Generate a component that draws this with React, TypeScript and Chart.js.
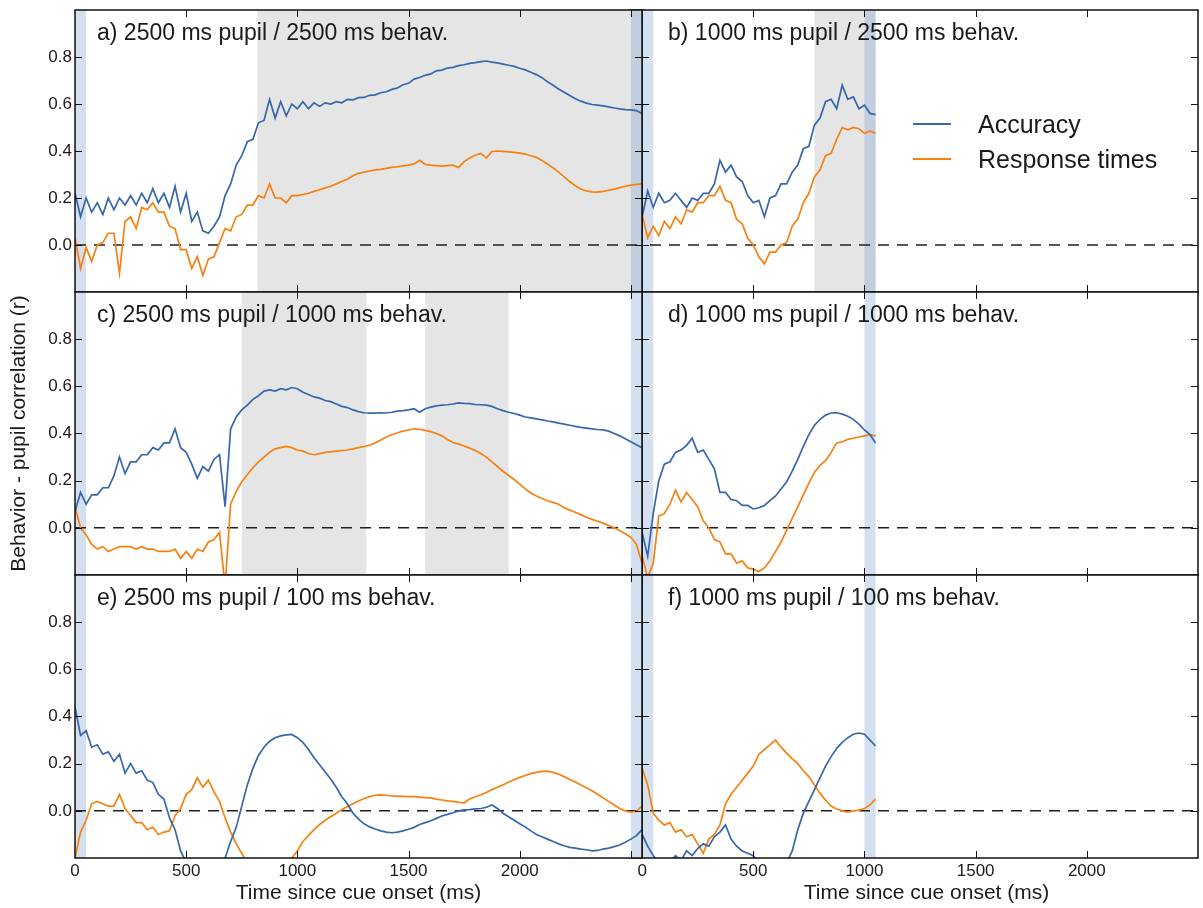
import React, { useEffect, useRef } from "react";
import { Chart, registerables } from "chart.js";

Chart.register(...registerables);

const FONT = '"Liberation Sans", Arial, Helvetica, sans-serif';
Chart.defaults.font.family = FONT;
Chart.defaults.color = "#1a1a1a";

// ---------------- data ----------------
const STEP_MS = 25; // sampling step of every series (ms)
const SERIES_START_MS = 0;

const X_TICK_LABELS = [0, 500, 1000, 1500, 2000];
const X_TICK_MARKS = [0, 500, 1000, 1500, 2000, 2500];
const Y_TICK_VALUES = [0, 0.2, 0.4, 0.6, 0.8];

const X_TITLE = "Time since cue onset (ms)";
const Y_TITLE = "Behavior - pupil correlation (r)";
const LEGEND_LABELS = ["Accuracy", "Response times"];

const TITLE_A = "a) 2500 ms pupil / 2500 ms behav.";
const TITLE_B = "b) 1000 ms pupil / 2500 ms behav.";
const TITLE_C = "c) 2500 ms pupil / 1000 ms behav.";
const TITLE_D = "d) 1000 ms pupil / 1000 ms behav.";
const TITLE_E = "e) 2500 ms pupil / 100 ms behav.";
const TITLE_F = "f) 1000 ms pupil / 100 ms behav.";

// significance windows (ms)
const GREY_A = [[820, 2550]];
const GREY_B = [[775, 1050]];
const GREY_C = [[750, 1310], [1575, 1950]];
const GREY_NONE: number[][] = [];
const BLUE_LEFT = [[-50, 50], [2500, 2550]];
const BLUE_RIGHT = [[-50, 50], [1000, 1050]];

// left column: 0 .. 2550 ms, step 25
const ACC_A = [
  0.22, 0.12, 0.20, 0.14, 0.18, 0.13, 0.20, 0.15, 0.20, 0.17,
  0.21, 0.17, 0.22, 0.18, 0.24, 0.18, 0.22, 0.16, 0.25, 0.14,
  0.22, 0.10, 0.14, 0.06, 0.05, 0.08, 0.12, 0.21, 0.26, 0.34,
  0.38, 0.44, 0.45, 0.52, 0.53, 0.62, 0.54, 0.61, 0.55, 0.60,
  0.58, 0.61, 0.58, 0.605, 0.59, 0.605, 0.60, 0.61, 0.605, 0.62,
  0.618, 0.627, 0.628, 0.637, 0.639, 0.648, 0.652, 0.662, 0.668, 0.682,
  0.688, 0.706, 0.713, 0.722, 0.728, 0.741, 0.744, 0.753, 0.756, 0.763,
  0.767, 0.773, 0.776, 0.78, 0.783, 0.778, 0.775, 0.77, 0.765, 0.76,
  0.752, 0.745, 0.735, 0.725, 0.712, 0.695, 0.68, 0.664, 0.65, 0.636,
  0.622, 0.612, 0.604, 0.598, 0.595, 0.592, 0.588, 0.583, 0.579, 0.576,
  0.575, 0.572, 0.56,
];
const RT_A = [
  0.03, -0.10, -0.01, -0.07, 0.00, 0.01, 0.05, 0.05, -0.12, 0.10,
  0.12, 0.07, 0.16, 0.15, 0.18, 0.14, 0.14, 0.08, 0.07, -0.02,
  -0.02, -0.10, -0.05, -0.13, -0.06, -0.05, 0.01, 0.07, 0.06, 0.12,
  0.13, 0.17, 0.17, 0.21, 0.20, 0.26, 0.20, 0.20, 0.18, 0.21,
  0.21, 0.215, 0.22, 0.228, 0.235, 0.243, 0.25, 0.26, 0.27, 0.28,
  0.295, 0.305, 0.31, 0.315, 0.32, 0.322, 0.326, 0.33, 0.333, 0.337,
  0.34, 0.345, 0.36, 0.343, 0.34, 0.338, 0.336, 0.338, 0.34, 0.33,
  0.355, 0.37, 0.382, 0.39, 0.37, 0.398, 0.40, 0.398, 0.396, 0.394,
  0.391, 0.387, 0.38, 0.373, 0.36, 0.345, 0.328, 0.31, 0.29, 0.27,
  0.252, 0.238, 0.23, 0.226, 0.225, 0.228, 0.233, 0.238, 0.244, 0.25,
  0.255, 0.258, 0.26,
];
const ACC_C = [
  0.07, 0.15, 0.10, 0.14, 0.14, 0.17, 0.17, 0.22, 0.30, 0.23,
  0.28, 0.28, 0.31, 0.31, 0.34, 0.33, 0.36, 0.36, 0.42, 0.34,
  0.32, 0.27, 0.21, 0.26, 0.24, 0.29, 0.31, 0.09, 0.42, 0.47,
  0.50, 0.52, 0.545, 0.56, 0.58, 0.585, 0.58, 0.59, 0.585, 0.595,
  0.59, 0.575, 0.565, 0.555, 0.55, 0.54, 0.535, 0.525, 0.515, 0.51,
  0.50, 0.493, 0.488, 0.486, 0.486, 0.488, 0.487, 0.49, 0.495, 0.497,
  0.50, 0.505, 0.49, 0.505, 0.512, 0.517, 0.52, 0.522, 0.525, 0.53,
  0.528, 0.527, 0.523, 0.522, 0.52, 0.515, 0.505, 0.497, 0.49, 0.485,
  0.478, 0.47, 0.466, 0.462, 0.458, 0.453, 0.449, 0.444, 0.44, 0.435,
  0.43, 0.426, 0.423, 0.42, 0.417, 0.415, 0.41, 0.40, 0.39, 0.378,
  0.365, 0.352, 0.34,
];
const RT_C = [
  0.09, 0.0, -0.03, -0.07, -0.09, -0.08, -0.10, -0.09, -0.08, -0.08,
  -0.08, -0.09, -0.08, -0.09, -0.09, -0.10, -0.10, -0.10, -0.09, -0.13,
  -0.10, -0.13, -0.09, -0.10, -0.06, -0.05, -0.02, -0.25, 0.10, 0.155,
  0.195, 0.225, 0.255, 0.28, 0.30, 0.32, 0.335, 0.34, 0.345, 0.34,
  0.33, 0.325, 0.315, 0.31, 0.315, 0.32, 0.322, 0.325, 0.328, 0.33,
  0.335, 0.34, 0.345, 0.35, 0.36, 0.372, 0.385, 0.395, 0.403, 0.41,
  0.415, 0.42, 0.418, 0.413, 0.408, 0.40, 0.39, 0.375, 0.362, 0.355,
  0.347, 0.338, 0.328, 0.315, 0.30, 0.28, 0.26, 0.24, 0.222, 0.205,
  0.185, 0.165, 0.148, 0.135, 0.124, 0.115, 0.108, 0.10, 0.085, 0.075,
  0.066, 0.056, 0.045, 0.036, 0.028, 0.02, 0.01, 0.0, -0.012, -0.025,
  -0.04, -0.07, -0.15,
];
const ACC_E = [
  0.44, 0.32, 0.34, 0.27, 0.28, 0.24, 0.25, 0.21, 0.24, 0.16,
  0.20, 0.16, 0.17, 0.13, 0.12, 0.07, 0.05, -0.03, -0.08, -0.17,
  -0.22, -0.28, -0.3, -0.3, -0.3, -0.3, -0.28, -0.2, -0.13, -0.07,
  0.02, 0.11, 0.18, 0.235, 0.27, 0.295, 0.31, 0.318, 0.322, 0.324,
  0.31, 0.29, 0.26, 0.225, 0.195, 0.165, 0.135, 0.10, 0.06, 0.03,
  -0.01, -0.035, -0.055, -0.068, -0.077, -0.085, -0.09, -0.093, -0.09, -0.085,
  -0.078, -0.07, -0.058, -0.05, -0.042, -0.032, -0.022, -0.015, -0.008, 0.0,
  0.004, 0.005, 0.008, 0.01, 0.015, 0.025, 0.01, -0.01, -0.025, -0.04,
  -0.055, -0.068, -0.085, -0.1, -0.11, -0.12, -0.13, -0.14, -0.148, -0.155,
  -0.158, -0.162, -0.165, -0.17, -0.168, -0.162, -0.158, -0.152, -0.145, -0.133,
  -0.12, -0.105, -0.08,
];
const RT_E = [
  -0.2, -0.09, -0.04, 0.03, 0.04, 0.03, 0.02, 0.02, 0.07, 0.01,
  -0.02, -0.05, -0.05, -0.08, -0.07, -0.10, -0.09, -0.085, -0.02, 0.01,
  0.07, 0.09, 0.14, 0.10, 0.13, 0.08, 0.04, -0.03, -0.09, -0.14,
  -0.18, -0.22, -0.26, -0.28, -0.3, -0.3, -0.3, -0.28, -0.24, -0.2,
  -0.17, -0.13, -0.105, -0.08, -0.058, -0.04, -0.025, -0.01, 0.005, 0.018,
  0.03, 0.042, 0.052, 0.06, 0.066, 0.068, 0.066, 0.063, 0.062, 0.061,
  0.06, 0.06, 0.058, 0.056, 0.055, 0.05, 0.046, 0.042, 0.04, 0.036,
  0.034, 0.05, 0.06, 0.068, 0.078, 0.09, 0.10, 0.11, 0.122, 0.132,
  0.142, 0.15, 0.158, 0.163, 0.167, 0.168, 0.163, 0.155, 0.145, 0.133,
  0.122, 0.11, 0.098, 0.085, 0.07, 0.055, 0.04, 0.025, 0.01, 0.0,
  -0.006, -0.002, 0.02,
];

// right column: 0 .. 1050 ms, step 25
const ACC_B = [
  0.12, 0.23, 0.16, 0.22, 0.18, 0.19, 0.22, 0.19, 0.16, 0.20,
  0.19, 0.22, 0.22, 0.26, 0.36, 0.31, 0.34, 0.29, 0.27, 0.21,
  0.18, 0.19, 0.12, 0.20, 0.21, 0.26, 0.26, 0.31, 0.34, 0.41,
  0.42, 0.51, 0.54, 0.61, 0.62, 0.58, 0.68, 0.62, 0.63, 0.58,
  0.595, 0.56, 0.555,
];
const RT_B = [
  0.13, 0.03, 0.08, 0.04, 0.10, 0.07, 0.12, 0.09, 0.15, 0.14,
  0.18, 0.18, 0.21, 0.21, 0.25, 0.19, 0.18, 0.11, 0.09, 0.03,
  0.0, -0.05, -0.08, -0.03, -0.03, 0.0, 0.01, 0.08, 0.11, 0.18,
  0.22, 0.29, 0.32, 0.38, 0.39, 0.45, 0.50, 0.49, 0.50, 0.495,
  0.475, 0.485, 0.475,
];
const ACC_D = [
  -0.02, -0.12, 0.06, 0.20, 0.27, 0.28, 0.32, 0.33, 0.35, 0.38,
  0.32, 0.33, 0.29, 0.25, 0.15, 0.15, 0.12, 0.115, 0.095, 0.095,
  0.08, 0.085, 0.095, 0.115, 0.135, 0.165, 0.195, 0.24, 0.29, 0.345,
  0.395, 0.435, 0.46, 0.478, 0.487, 0.488, 0.482, 0.473, 0.46, 0.44,
  0.415, 0.395, 0.36,
];
const RT_D = [
  -0.12, -0.21, -0.15, 0.05, 0.06, 0.10, 0.16, 0.11, 0.15, 0.12,
  0.09, 0.03, 0.0, -0.05, -0.06, -0.11, -0.11, -0.15, -0.14, -0.17,
  -0.175, -0.185, -0.17, -0.14, -0.10, -0.06, -0.01, 0.04, 0.09, 0.14,
  0.19, 0.235, 0.265, 0.285, 0.32, 0.36, 0.365, 0.375, 0.38, 0.385,
  0.39, 0.395, 0.39,
];
const ACC_F = [
  -0.10, -0.15, -0.19, -0.22, -0.21, -0.22, -0.19, -0.21, -0.17, -0.19,
  -0.16, -0.14, -0.15, -0.11, -0.09, -0.06, -0.12, -0.15, -0.17, -0.18,
  -0.19, -0.22, -0.26, -0.28, -0.28, -0.26, -0.22, -0.17, -0.08, -0.01,
  0.04, 0.09, 0.14, 0.19, 0.23, 0.265, 0.29, 0.31, 0.325, 0.33,
  0.325, 0.30, 0.275,
];
const RT_F = [
  0.18, 0.11, -0.01, -0.04, -0.06, -0.05, -0.09, -0.08, -0.11, -0.10,
  -0.14, -0.18, -0.12, -0.10, -0.06, 0.03, 0.07, 0.10, 0.13, 0.16,
  0.19, 0.24, 0.26, 0.28, 0.30, 0.27, 0.245, 0.22, 0.20, 0.17,
  0.145, 0.11, 0.075, 0.045, 0.02, 0.008, 0.0, -0.005, 0.0, 0.003,
  0.01, 0.025, 0.05,
];

// ---------------- styles / layout ----------------
const BLUE = "#3767ab";
const ORANGE = "#f8800f";
const GREY_FILL = "#e5e5e5";
const BLUE_FILL = "rgba(120,155,205,0.32)";
const TEXT = "#1a1a1a";

type Col = {
  left: number; width: number; padL: number; padR: number; xMin: number; xMax: number;
  blue: number[][]; titleDx: number; z: number; isLeft: boolean; xTitleDx: number;
};
const COLS: Col[] = [
  { left: 0, width: 647, padL: 0, padR: 5, xMin: 0, xMax: 2550, blue: BLUE_LEFT, titleDx: 22, z: 2, isLeft: true, xTitleDx: 0 },
  { left: 626, width: 577, padL: 5, padR: 5, xMin: -50, xMax: 2500, blue: BLUE_RIGHT, titleDx: 37, z: 1, isLeft: false, xTitleDx: 12 },
];
const ROWS = [
  { top: 5, height: 292 },
  { top: 287, height: 293 },
  { top: 570, height: 338 },
];

type Panel = {
  id: string; col: number; row: number; title: string;
  acc: number[]; rt: number[]; grey: number[][]; legend: boolean;
};
const PANELS: Panel[] = [
  { id: "a", col: 0, row: 0, title: TITLE_A, acc: ACC_A, rt: RT_A, grey: GREY_A, legend: false },
  { id: "b", col: 1, row: 0, title: TITLE_B, acc: ACC_B, rt: RT_B, grey: GREY_B, legend: true },
  { id: "c", col: 0, row: 1, title: TITLE_C, acc: ACC_C, rt: RT_C, grey: GREY_C, legend: false },
  { id: "d", col: 1, row: 1, title: TITLE_D, acc: ACC_D, rt: RT_D, grey: GREY_NONE, legend: false },
  { id: "e", col: 0, row: 2, title: TITLE_E, acc: ACC_E, rt: RT_E, grey: GREY_NONE, legend: false },
  { id: "f", col: 1, row: 2, title: TITLE_F, acc: ACC_F, rt: RT_F, grey: GREY_NONE, legend: false },
];

function toPoints(values: number[]) {
  return values.map((y, i) => ({ x: SERIES_START_MS + i * STEP_MS, y }));
}

function decorPlugin(p: Panel) {
  const col = COLS[p.col];
  const isBottom = p.row === 2;
  return {
    id: "decor_" + p.id,
    beforeDatasetsDraw(chart: any) {
      const { ctx, chartArea: a, scales } = chart;
      const xs = scales.x;
      const ys = scales.y;
      ctx.save();
      ctx.fillStyle = "#ffffff";
      ctx.fillRect(a.left, a.top, a.right - a.left, a.bottom - a.top);
      const band = (r: number[], color: string) => {
        const x1 = Math.max(a.left, xs.getPixelForValue(r[0]));
        const x2 = Math.min(a.right, xs.getPixelForValue(r[1]));
        if (x2 > x1) {
          ctx.fillStyle = color;
          ctx.fillRect(x1, a.top, x2 - x1, a.bottom - a.top);
        }
      };
      p.grey.forEach((r) => band(r, GREY_FILL));
      col.blue.forEach((r) => band(r, BLUE_FILL));
      const y0 = ys.getPixelForValue(0);
      ctx.strokeStyle = "#1f1f1f";
      ctx.lineWidth = 1.5;
      ctx.setLineDash([11, 8]);
      ctx.beginPath();
      ctx.moveTo(a.left, y0);
      ctx.lineTo(a.right, y0);
      ctx.stroke();
      ctx.restore();
    },
    afterDatasetsDraw(chart: any) {
      const { ctx, chartArea: a, scales } = chart;
      const xs = scales.x;
      const ys = scales.y;
      ctx.save();
      ctx.strokeStyle = "#111111";
      // ticks
      ctx.lineWidth = 1;
      const tl = 7;
      ctx.beginPath();
      X_TICK_MARKS.forEach((v) => {
        const px = Math.round(xs.getPixelForValue(v)) + 0.5;
        if (px > a.left + 1 && px < a.right - 1) {
          ctx.moveTo(px, a.top);
          ctx.lineTo(px, a.top + tl);
          ctx.moveTo(px, a.bottom);
          ctx.lineTo(px, a.bottom - tl);
        }
      });
      Y_TICK_VALUES.forEach((v) => {
        const py = Math.round(ys.getPixelForValue(v)) + 0.5;
        if (col.isLeft) {
          ctx.moveTo(a.left, py);
          ctx.lineTo(a.left + tl, py);
        } else {
          const x0 = xs.getPixelForValue(0);
          ctx.moveTo(x0 - tl, py);
          ctx.lineTo(x0 + tl, py);
        }
        ctx.moveTo(a.right, py);
        ctx.lineTo(a.right - tl, py);
      });
      ctx.stroke();
      // zero-time line in right panels
      if (!col.isLeft) {
        const x0 = xs.getPixelForValue(0);
        ctx.lineWidth = 1.5;
        ctx.beginPath();
        ctx.moveTo(x0, a.top);
        ctx.lineTo(x0, a.bottom);
        ctx.stroke();
      }
      // frame
      ctx.lineWidth = 1.5;
      ctx.strokeRect(a.left, a.top, a.right - a.left, a.bottom - a.top);
      // panel title
      ctx.fillStyle = TEXT;
      ctx.font = `23px ${FONT}`;
      ctx.textBaseline = "alphabetic";
      ctx.textAlign = "left";
      ctx.fillText(p.title, a.left + col.titleDx, a.top + 30);
      // legend
      if (p.legend) {
        const items = [
          { label: LEGEND_LABELS[0], color: BLUE, dy: 114 },
          { label: LEGEND_LABELS[1], color: ORANGE, dy: 149 },
        ];
        ctx.font = `25px ${FONT}`;
        items.forEach((it) => {
          const y = a.top + it.dy;
          ctx.strokeStyle = it.color;
          ctx.lineWidth = 2;
          ctx.beginPath();
          ctx.moveTo(a.left + 282, y);
          ctx.lineTo(a.left + 320, y);
          ctx.stroke();
          ctx.fillStyle = TEXT;
          ctx.fillText(it.label, a.left + 347, y + 9);
        });
      }
      // x-axis title (bottom row)
      if (isBottom) {
        ctx.fillStyle = TEXT;
        ctx.font = `21px ${FONT}`;
        ctx.textAlign = "center";
        ctx.textBaseline = "middle";
        ctx.fillText(X_TITLE, (a.left + a.right) / 2 + col.xTitleDx, a.bottom + 35);
      }
      ctx.restore();
    },
  };
}

function buildConfig(p: Panel): any {
  const col = COLS[p.col];
  const isBottom = p.row === 2;
  const showYTitle = col.isLeft && p.row === 1;
  return {
    type: "line",
    data: {
      datasets: [
        {
          label: LEGEND_LABELS[0],
          data: toPoints(p.acc),
          borderColor: BLUE,
          borderWidth: 1.7,
          pointRadius: 0,
          fill: false,
          tension: 0,
        },
        {
          label: LEGEND_LABELS[1],
          data: toPoints(p.rt),
          borderColor: ORANGE,
          borderWidth: 1.7,
          pointRadius: 0,
          fill: false,
          tension: 0,
        },
      ],
    },
    options: {
      animation: false,
      responsive: false,
      maintainAspectRatio: false,
      devicePixelRatio: 1,
      events: [],
      layout: {
        padding: { top: 5, left: col.padL, right: col.padR, bottom: isBottom ? 0 : 5 },
      },
      plugins: {
        legend: { display: false },
        tooltip: { enabled: false },
        title: { display: false },
      },
      scales: {
        x: {
          type: "linear",
          min: col.xMin,
          max: col.xMax,
          display: isBottom,
          grid: { display: false, drawTicks: false },
          border: { display: false },
          ticks: {
            font: { size: 17 },
            color: TEXT,
            padding: 3,
            maxRotation: 0,
            autoSkip: false,
            callback: (v: any) => String(v),
          },
          afterBuildTicks: (s: any) => {
            s.ticks = X_TICK_LABELS.map((v) => ({ value: v }));
          },
          afterFit: (s: any) => {
            if (isBottom) {
              s.height = 50;
              s.paddingLeft = 0;
              s.paddingRight = 0;
            }
          },
          title: { display: false },
        },
        y: {
          type: "linear",
          min: -0.2,
          max: 1.0,
          display: col.isLeft,
          grid: { display: false, drawTicks: false },
          border: { display: false },
          ticks: {
            font: { size: 17 },
            color: TEXT,
            padding: 3,
            callback: (v: any) => Number(v).toFixed(1),
          },
          afterBuildTicks: (s: any) => {
            s.ticks = Y_TICK_VALUES.map((v) => ({ value: v }));
          },
          afterFit: (s: any) => {
            if (col.isLeft) {
              s.width = 75;
              s.paddingTop = 0;
              s.paddingBottom = 0;
            }
          },
          title: {
            display: showYTitle,
            text: Y_TITLE,
            font: { size: 21 },
            color: TEXT,
            padding: { top: 7, bottom: 0 },
          },
        },
      },
    },
    plugins: [decorPlugin(p)],
  };
}

function PanelChart({ p }: { p: Panel }) {
  const ref = useRef<HTMLCanvasElement>(null);
  const col = COLS[p.col];
  const row = ROWS[p.row];
  useEffect(() => {
    if (!ref.current) return;
    const chart = new Chart(ref.current, buildConfig(p));
    return () => chart.destroy();
  }, [p]);
  return (
    <canvas
      ref={ref}
      width={col.width}
      height={row.height}
      style={{
        position: "absolute",
        left: col.left,
        top: row.top,
        width: col.width,
        height: row.height,
        zIndex: col.z,
        display: "block",
      }}
    />
  );
}

export default function App() {
  return (
    <div
      style={{
        position: "absolute",
        left: 0,
        top: 0,
        width: 1203,
        height: 908,
        background: "#ffffff",
        overflow: "hidden",
      }}
    >
      {PANELS.map((p) => (
        <PanelChart key={p.id} p={p} />
      ))}
    </div>
  );
}
